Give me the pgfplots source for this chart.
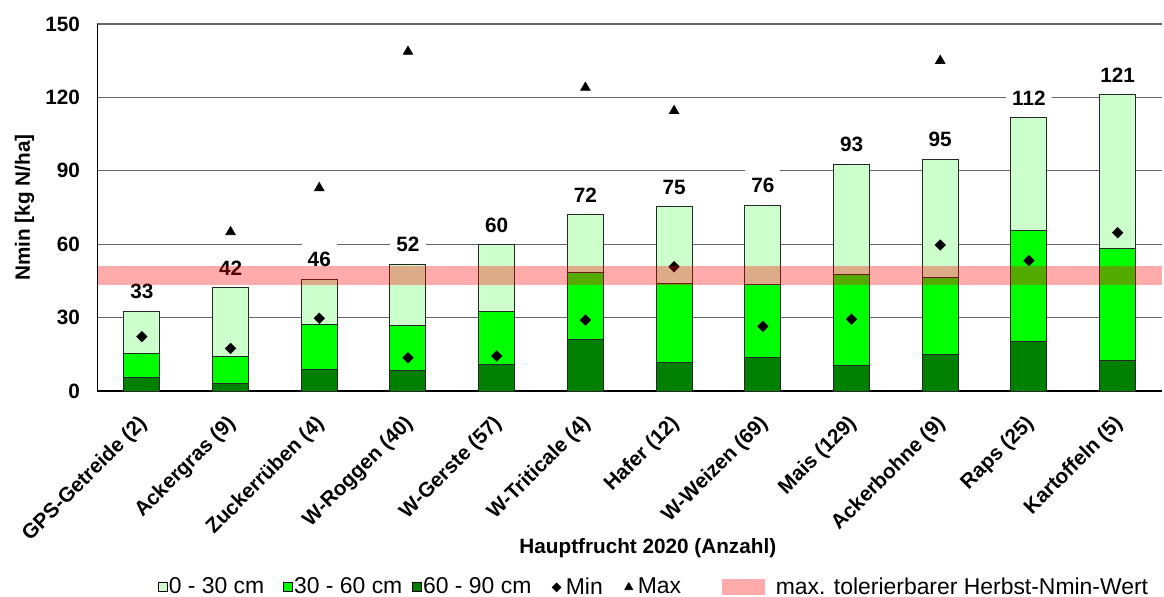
\documentclass[border=0pt]{standalone}
\usepackage{fontspec}
\setmainfont{Liberation Sans}
\usepackage{pgfplots}
\pgfplotsset{compat=1.18}
\usepackage{pgfplotstable}

\definecolor{cA}{RGB}{204,255,204}
\definecolor{cB}{RGB}{0,255,0}
\definecolor{cC}{RGB}{0,128,0}

% x, 60-90 cm, 30-60 cm, 0-30 cm, total, label, min, max
\pgfplotstableread{
x a b c tot lab mn mx
0 5.6 9.8 17.2 32.6 33 22.2 43
1 2.9 11.4 27.9 42.2 42 17.4 65
2 8.9 18.3 18.4 45.6 46 29.7 83
3 8.2 18.6 25.1 51.9 52 13.6 138.7
4 11.0 21.4 27.3 59.7 60 14.3 nan
5 21.1 27.3 23.7 72.1 72 29.0 124
6 11.6 32.4 31.3 75.3 75 50.8 114.5
7 13.6 30.0 32.4 76.0 76 26.4 nan
8 10.6 37.1 44.9 92.6 93 29.3 nan
9 15.1 31.4 48.2 94.7 95 59.7 135
10 20.2 45.5 46.0 111.7 112 53.3 nan
11 12.3 46.0 62.8 121.1 121 64.7 nan
}\data

\pgfplotstableread{
x lo hi
-0.5 43.5 51
11.5 43.5 51
}\band

\newcommand{\bfont}{\fontsize{10.4}{12}\selectfont\bfseries}
\newcommand{\lfont}{\fontsize{11.5}{13}\selectfont}

\pgfplotsset{common/.style={
  at={(0,0)}, anchor=south west,
  scale only axis, width=532.25bp, height=183.5bp,
  xmin=-0.5, xmax=11.5, ymin=0, ymax=150}}

\begin{document}
\begin{tikzpicture}
\begin{axis}[
  common, name=main,
  ybar stacked, bar width=18bp,
  ytick={0,30,60,90,120,150},
  xtick={0,...,11},
  xticklabels={GPS-Getreide (2),Ackergras (9),Zuckerrüben (4),W-Roggen (40),W-Gerste (57),W-Triticale (4),Hafer (12),W-Weizen (69),Mais (129),Ackerbohne (9),Raps (25),Kartoffeln (5)},
  axis x line*=bottom, axis y line*=left,
  axis line style={-, black, line width=0.75bp},
  major tick length=0pt,
  ymajorgrids, grid style={black!60, line width=0.6bp},
  /pgf/number format/assume math mode=true,
  ticklabel style={font=\bfont},
  yticklabel style={xshift=-5.25bp},
  xticklabel style={xshift=-2.5bp, yshift=-6.3bp, rotate=45, anchor=north east},
  xlabel={Hauptfrucht 2020 (Anzahl)},
  ylabel={Nmin [kg N/ha]},
  label style={font=\bfont},
  xlabel style={at={(axis description cs:0.517,-0.4292)}, anchor=center},
  ylabel style={at={(axis description cs:-0.0686,0.5)}, anchor=center},
  legend columns=6,
  legend cell align=left,
  legend style={at={(axis description cs:0.05683,-0.535)}, anchor=west,
    draw=none, fill=none, inner sep=0pt, outer sep=0pt, font=\lfont,
    nodes={inner sep=0.5bp},
    /tikz/column 1/.style={column sep=0bp},
    /tikz/column 2/.style={column sep=9bp},
    /tikz/column 3/.style={column sep=0bp},
    /tikz/column 4/.style={column sep=4.5bp},
    /tikz/column 5/.style={column sep=0bp},
    /tikz/column 6/.style={column sep=10bp},
    /tikz/column 7/.style={column sep=2bp},
    /tikz/column 8/.style={column sep=10.5bp},
    /tikz/column 9/.style={column sep=2bp},
    /tikz/column 10/.style={column sep=20bp},
    /tikz/column 11/.style={column sep=5bp}},
]
\addplot[fill=cC, draw=black!85, line width=0.5bp, forget plot] table[x=x, y=a] {\data};
\addplot[fill=cB, draw=black!85, line width=0.5bp, forget plot] table[x=x, y=b] {\data};
\addplot[fill=cA, draw=black!85, line width=0.5bp, forget plot] table[x=x, y=c] {\data};

\addlegendimage{legend image code/.code={\draw[fill=cA, draw=black, line width=0.4bp] (0bp,-2.25bp) rectangle (4.5bp,2.25bp);}}
\addlegendentry{0 - 30 cm}
\addlegendimage{legend image code/.code={\draw[fill=cB, draw=black, line width=0.4bp] (0bp,-2.25bp) rectangle (4.5bp,2.25bp);}}
\addlegendentry{30 - 60 cm}
\addlegendimage{legend image code/.code={\draw[fill=cC, draw=black, line width=0.4bp] (0bp,-2.25bp) rectangle (4.5bp,2.25bp);}}
\addlegendentry{60 - 90 cm}
\addlegendimage{legend image code/.code={\draw[only marks, mark=square*, mark size=1.5bp, mark options={rotate=45, fill=black, draw=black}] plot coordinates {(2.25bp,0bp)};}}
\addlegendentry{Min}
\addlegendimage{legend image code/.code={\draw[only marks, mark=triangle*, mark size=2.3bp, mark options={fill=black, draw=black}] plot coordinates {(2.25bp,0bp)};}}
\addlegendentry{Max}
\addlegendimage{legend image code/.code={\fill[red!33] (0bp,-3.75bp) rectangle (21bp,3.75bp);}}
\addlegendentry{max. tolerierbarer Herbst-Nmin-Wert}
\end{axis}

\begin{axis}[common, hide axis, clip=false]
\addplot[only marks, mark=square*, mark size=1.8bp, mark options={rotate=45, fill=black, draw=black}] table[x=x, y=mn] {\data};
\addplot[only marks, mark=triangle*, mark size=2.7bp, mark options={fill=black, draw=black}] table[x=x, y=mx] {\data};
\addplot[draw=none, mark=none, nodes near coords, point meta=explicit symbolic,
  every node near coord/.append style={fill=white, inner xsep=3bp, inner ysep=4.5bp, yshift=1.5bp, font=\bfont, text=black, anchor=south}]
  table[x=x, y=tot, meta=lab] {\data};
\end{axis}

\begin{axis}[common, hide axis]
\addplot[draw=none, fill=red, fill opacity=0.33] table[x=x, y=hi] {\band} -- (axis cs:11.5,43.5) -- (axis cs:-0.5,43.5) -- cycle;
\end{axis}

\pgfresetboundingbox
\path ([shift={(-48.75bp,-103bp)}]main.south west) rectangle ([shift={(1bp,12bp)}]main.north east);
\end{tikzpicture}
\end{document}
